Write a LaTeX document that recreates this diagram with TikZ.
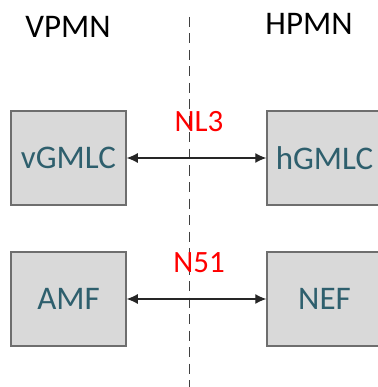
\documentclass[tikz,border=0pt]{standalone}
\usepackage{fontspec}
\setmainfont{Carlito}
\usepackage{xcolor}
\usetikzlibrary{arrows.meta}
\definecolor{nfbox}{HTML}{D9D9D9}
\definecolor{nfedge}{HTML}{6E6E6E}
\definecolor{nftext}{HTML}{2E5F6D}

\begin{document}
\begin{tikzpicture}[x=1pt,y=-1pt,>={Latex[length=11pt,width=10pt]},
  nf/.style={draw=nfedge,fill=nfbox,line width=1.5pt,minimum width=115pt,minimum height=94pt,
    inner sep=0pt,text=nftext,font=\fontsize{33}{38}\selectfont},
  plmn/.style={anchor=base,font=\fontsize{33}{38}\selectfont},
  iface/.style={anchor=base,text=red,font=\fontsize{31}{36}\selectfont}]
\useasboundingbox (0,0) rectangle (377,387);

% Border between the two networks
\coordinate (top) at (189,17);
\coordinate (bot) at (189,387);
\draw[line width=0.9pt,draw=black!75,dash pattern=on 10pt off 6.5pt] (top) -- (bot);

% Network labels
\node[plmn] (vpmn) at (68,38) {VPMN};
\node[plmn] (hpmn) at (309,35) {HPMN};

% Functions
\node[nf] (vgmlc) at (68.5,158) {vGMLC};
\node[nf] (hgmlc) at (324.5,158) {hGMLC};
\node[nf] (amf) at (68.5,299) {AMF};
\node[nf] (nef) at (324.5,299) {NEF};

% Interfaces
\draw[<->,line width=1.1pt,draw=black!85] (vgmlc) -- (hgmlc);
\draw[<->,line width=1.1pt,draw=black!85] (amf) -- (nef);
\node[iface] (nl3) at (199,132) {NL3};
\node[iface] (n51) at (199,272) {N51};
\end{tikzpicture}
\end{document}
